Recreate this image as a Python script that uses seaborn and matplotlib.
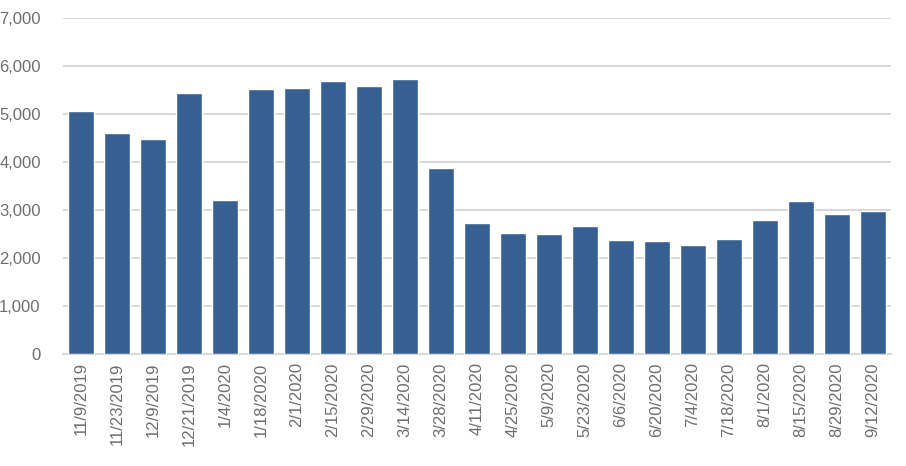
import numpy as np
import pandas as pd
import seaborn as sns
import matplotlib.pyplot as plt
from matplotlib.ticker import FuncFormatter, MultipleLocator

# Tanggal (label sumbu x) dan nilai tiap batang
dates = ['11/9/2019', '11/23/2019', '12/9/2019', '12/21/2019', '1/4/2020',
         '1/18/2020', '2/1/2020', '2/15/2020', '2/29/2020', '3/14/2020',
         '3/28/2020', '4/11/2020', '4/25/2020', '5/9/2020', '5/23/2020',
         '6/6/2020', '6/20/2020', '7/4/2020', '7/18/2020', '8/1/2020',
         '8/15/2020', '8/29/2020', '9/12/2020']
values = [5065, 4605, 4480, 5440, 3210, 5520, 5545, 5690, 5585, 5730,
          3875, 2730, 2520, 2500, 2665, 2375, 2355, 2270, 2395, 2795,
          3190, 2915, 2980]

df = pd.DataFrame({'date': dates, 'value': values})

sns.set_style('white')
plt.rcParams['font.family'] = ['Liberation Sans', 'DejaVu Sans']

fig = plt.figure(figsize=(9.06, 4.66), dpi=100)
ax = fig.add_axes([0.0695, 0.2403, 0.914, 0.7211])

sns.barplot(data=df, x='date', y='value', color='#376092', saturation=1,
            width=0.72, ax=ax, zorder=3)

ax.set_ylim(0, 7000)
ax.set_xlim(-0.5, len(dates) - 0.5)
ax.yaxis.set_major_locator(MultipleLocator(1000))
ax.yaxis.set_major_formatter(FuncFormatter(lambda v, p: f'{int(v):,}'))
ax.grid(axis='y', color='#D9D9D9', linewidth=1.5, zorder=0)
ax.set_axisbelow(True)

for s in ['top', 'right', 'left']:
    ax.spines[s].set_visible(False)
ax.spines['bottom'].set_color('#D9D9D9')
ax.spines['bottom'].set_linewidth(1.5)

ax.tick_params(axis='x', rotation=90, labelsize=12, labelcolor='#6E6E6E',
               length=0, pad=6)
ax.tick_params(axis='y', labelsize=12, labelcolor='#6E6E6E', length=0, pad=16)
ax.set_xlabel('')
ax.set_ylabel('')

fig.savefig('out.png', dpi=100)
